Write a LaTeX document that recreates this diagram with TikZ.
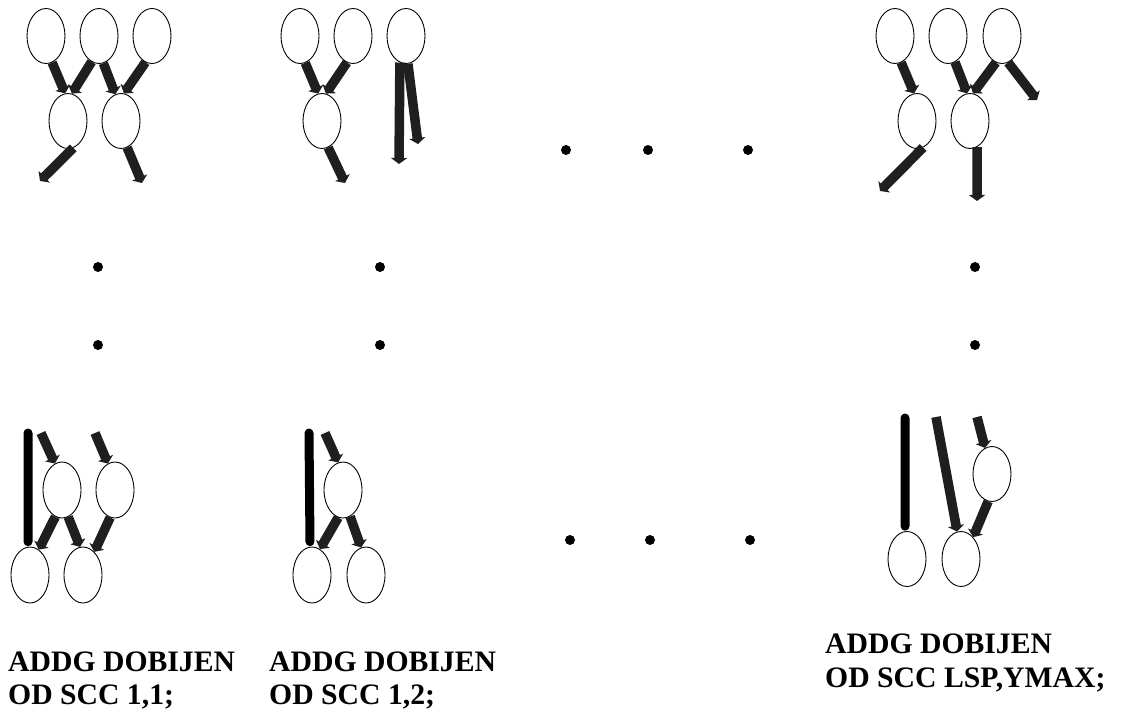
\documentclass[tikz,border=0pt]{standalone}
\usepackage{fontspec}
\setmainfont{Liberation Serif}
\usetikzlibrary{arrows.meta,shapes.geometric}
\begin{document}
\begin{tikzpicture}[x=1pt,y=-1pt,
  el/.style={draw,ellipse,line width=0.9pt,minimum width=38pt,minimum height=55pt,inner sep=0pt},
  arr/.style={draw=black!88,line width=9.5pt,-{Triangle[width=16pt,length=6pt]}},
  bar/.style={draw=black,line width=9pt,line cap=round},
  dot/.style={circle,fill=black,minimum size=10pt,inner sep=0pt},
  lbl/.style={anchor=base west,inner sep=0pt,font=\fontsize{29.7}{34}\selectfont\bfseries}]
\useasboundingbox (0,0) rectangle (1124,711);
% ---------- group 1 (top left)
\node[el] (e11) at (46,36) {};
\node[el] (e12) at (99,36) {};
\node[el] (e13) at (152,36) {};
\node[el] (e21) at (68,121) {};
\node[el] (e22) at (121,121) {};
\coordinate (o21) at (40,181);
\coordinate (o22) at (142,183);
\draw[arr] (e11.-77) -- (e21.96);
\draw[arr] (e12.-106) -- (e21.82);
\draw[arr] (e12.-81) -- (e22.102);
\draw[arr] (e13.-104) -- (e22.84);
\draw[arr] (e21.-79) -- (o21);
\draw[arr] (e22.-77) -- (o22);
% ---------- group 2 (top middle)
\node[el] (e31) at (300,36) {};
\node[el] (e32) at (353,36) {};
\node[el] (e33) at (406,36) {};
\node[el] (e41) at (322,121) {};
\coordinate (o41) at (345,183);
\coordinate (o33a) at (399,164);
\coordinate (o33b) at (418,144);
\draw[arr] (e31.-79) -- (e41.98);
\draw[arr] (e32.-103) -- (e41.82);
\draw[arr] (e41.-77) -- (o41);
\draw[arr] (e33.-103) -- (o33a);
\draw[arr] (e33.-86) -- (o33b);
% ---------- group 3 (top right)
\node[el] (f1) at (895,36) {};
\node[el] (f2) at (948,36) {};
\node[el] (f3) at (1002,36) {};
\node[el] (g1) at (917,121) {};
\node[el] (g2) at (970,121) {};
\coordinate (of3) at (1037,100);
\coordinate (og1) at (880,191);
\coordinate (og2) at (977,201);
\draw[arr] (f1.-77) -- (g1.96);
\draw[arr] (f2.-75) -- (g2.96);
\draw[arr] (f3.-103) -- (g2.84);
\draw[arr] (f3.-77) -- (of3);
\draw[arr] (g1.-77) -- (og1);
\draw[arr] (g2.-75) -- (og2);
% ---------- bottom group 1
\node[el,minimum height=56pt] (h1) at (62,490) {};
\node[el,minimum height=56pt] (h2) at (115,490) {};
\node[el,minimum height=56pt] (k1) at (30,575) {};
\node[el,minimum height=56pt] (k2) at (83,575) {};
\coordinate (b1) at (28,433);
\coordinate (i1) at (41,433);
\coordinate (i2) at (95,433);
\draw[bar,shorten >=5pt] (b1) -- (k1.94);
\draw[arr] (i1) -- (h1.105);
\draw[arr] (i2) -- (h2.105);
\draw[arr] (h1.-104) -- (k1.71);
\draw[arr] (h1.-77) -- (k2.96);
\draw[arr] (h2.-100) -- (k2.64);
% ---------- bottom group 2
\node[el,minimum height=56pt] (m1) at (343,490) {};
\node[el,minimum height=56pt] (n1) at (312,575) {};
\node[el,minimum height=56pt] (n2) at (366,575) {};
\coordinate (b2) at (309,433);
\coordinate (i3) at (325,433);
\draw[bar,shorten >=5pt] (b2) -- (n1.94);
\draw[arr] (i3) -- (m1.100);
\draw[arr] (m1.-100) -- (n1.73);
\draw[arr] (m1.-75) -- (n2.100);
% ---------- bottom group 3
\node[el] (p1) at (992,474) {};
\node[el] (q1) at (907,559) {};
\node[el] (q2) at (961,559) {};
\coordinate (b3) at (905,418);
\coordinate (i4) at (936,417);
\coordinate (i5) at (977,417);
\draw[bar,shorten >=5pt] (b3) -- (q1.94);
\draw[arr] (i4) -- (q2.98);
\draw[arr] (i5) -- (p1.105);
\draw[arr] (p1.-98) -- (q2.61);
% ---------- dots
\node[dot] (d1) at (566,150) {};
\node[dot] (d2) at (648,150) {};
\node[dot] (d3) at (748,150) {};
\node[dot] (d4) at (98,267) {};
\node[dot] (d5) at (98,345) {};
\node[dot] (d6) at (380,267) {};
\node[dot] (d7) at (380,345) {};
\node[dot] (d8) at (975,267) {};
\node[dot] (d9) at (975,345) {};
\node[dot] (d10) at (570,540) {};
\node[dot] (d11) at (650,540) {};
\node[dot] (d12) at (750,540) {};
% ---------- labels
\node[lbl] (t1a) at (8,671) {ADDG DOBIJEN};
\node[lbl] (t1b) at (8,704) {OD SCC 1,1;};
\node[lbl] (t2a) at (269,671) {ADDG DOBIJEN};
\node[lbl] (t2b) at (269,704) {OD SCC 1,2;};
\node[lbl] (t3a) at (825,653) {ADDG DOBIJEN};
\node[lbl] (t3b) at (825,687) {OD SCC LSP,YMAX;};
\end{tikzpicture}
\end{document}
